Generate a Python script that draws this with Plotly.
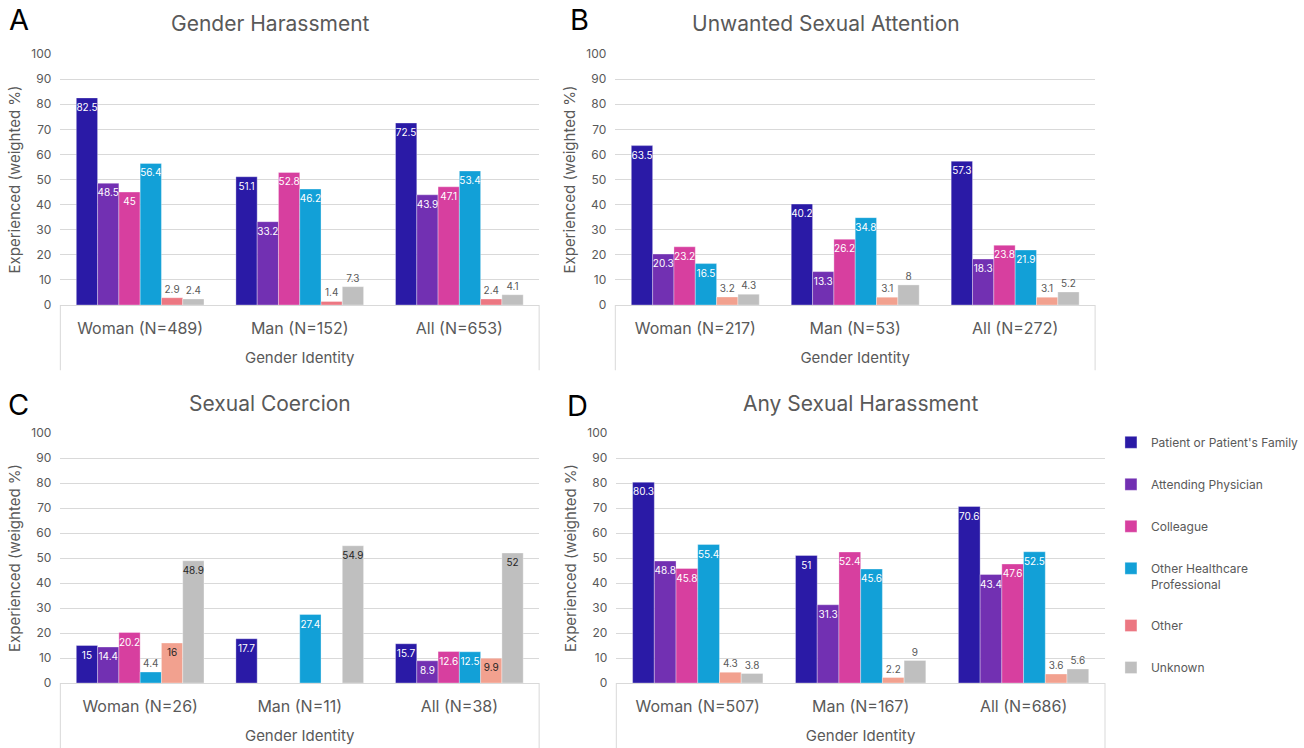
import plotly.graph_objects as go

# ---- data ----
series_names = ["Patient or Patient's Family", "Attending Physician", "Colleague",
                "Other Healthcare<br>Professional", "Other", "Unknown"]

cats_a = ["Woman (N=489)", "Man (N=152)", "All (N=653)"]
cats_b = ["Woman (N=217)", "Man (N=53)", "All (N=272)"]
cats_c = ["Woman (N=26)", "Man (N=11)", "All (N=38)"]
cats_d = ["Woman (N=507)", "Man (N=167)", "All (N=686)"]

# Gender Harassment
gh_patient = [82.5, 51.1, 72.5]
gh_attending = [48.5, 33.2, 43.9]
gh_colleague = [45, 52.8, 47.1]
gh_other_hcp = [56.4, 46.2, 53.4]
gh_other = [2.9, 1.4, 2.4]
gh_unknown = [2.4, 7.3, 4.1]

# Unwanted Sexual Attention
usa_patient = [63.5, 40.2, 57.3]
usa_attending = [20.3, 13.3, 18.3]
usa_colleague = [23.2, 26.2, 23.8]
usa_other_hcp = [16.5, 34.8, 21.9]
usa_other = [3.2, 3.1, 3.1]
usa_unknown = [4.3, 8, 5.2]

# Sexual Coercion
sc_patient = [15, 17.7, 15.7]
sc_attending = [14.4, None, 8.9]
sc_colleague = [20.2, None, 12.6]
sc_other_hcp = [4.4, 27.4, 12.5]
sc_other = [16, None, 9.9]
sc_unknown = [48.9, 54.9, 52]

# Any Sexual Harassment
ash_patient = [80.3, 51, 70.6]
ash_attending = [48.8, 31.3, 43.4]
ash_colleague = [45.8, 52.4, 47.6]
ash_other_hcp = [55.4, 45.6, 52.5]
ash_other = [4.3, 2.2, 3.6]
ash_unknown = [3.8, 9, 5.6]

panel_titles = ["Gender Harassment", "Unwanted Sexual Attention",
                "Sexual Coercion", "Any Sexual Harassment"]
panel_letters = ["A", "B", "C", "D"]

# ---- styling ----
W, H = 1304, 748
FONT = "Inter"
GREY_TXT = "#595959"
GRID = "#D9D9D9"
colors = ["#2A1AA6", "#7230B2", "#D73F9F", "#12A0D7", "#F2A18F", "#BFBFBF"]
other_color_a = "#EC7782"

panels = [
    dict(cats=cats_a, vals=[gh_patient, gh_attending, gh_colleague, gh_other_hcp, gh_other, gh_unknown],
         px=(61, 545), py=(54, 305), title_xy=(273, 23), letter_xy=(19, 20)),
    dict(cats=cats_b, vals=[usa_patient, usa_attending, usa_colleague, usa_other_hcp, usa_other, usa_unknown],
         px=(622, 1107), py=(54, 305), title_xy=(835, 23), letter_xy=(586, 20)),
    dict(cats=cats_c, vals=[sc_patient, sc_attending, sc_colleague, sc_other_hcp, sc_other, sc_unknown],
         px=(61, 545), py=(433, 683), title_xy=(273, 403), letter_xy=(19, 404)),
    dict(cats=cats_d, vals=[ash_patient, ash_attending, ash_colleague, ash_other_hcp, ash_other, ash_unknown],
         px=(623, 1117), py=(433, 683), title_xy=(870, 403), letter_xy=(584, 405)),
]


def fx(p):
    return p / W


def fy(p):
    return 1 - p / H


fig = go.Figure()
layout = dict(
    width=W, height=H,
    margin=dict(l=0, r=0, t=0, b=0),
    paper_bgcolor="white", plot_bgcolor="white",
    barmode="group", bargap=0.2, bargroupgap=0,
    font=dict(family=FONT, color=GREY_TXT),
    uniformtext=dict(minsize=10, mode="show"),
    showlegend=True,
    legend=dict(
        x=fx(1123), y=fy(428), xanchor="left", yanchor="top",
        font=dict(size=12, color=GREY_TXT, family=FONT),
        traceorder="grouped", tracegroupgap=23, valign="top",
        itemwidth=30, bgcolor="rgba(0,0,0,0)",
    ),
)

annotations = []
shapes = []

for i, p in enumerate(panels):
    n = "" if i == 0 else str(i + 1)
    xa, ya = "x" + n, "y" + n
    for s, (name, vals) in enumerate(zip(series_names, p["vals"])):
        col = colors[s]
        if i == 0 and s == 4:
            col = other_color_a
        positions, tcolors = [], []
        for v in vals:
            small = v is not None and ((s >= 4 and v < 9.5) or v < 5)
            if small:
                positions.append("outside")
                tcolors.append(GREY_TXT)
            else:
                positions.append("inside")
                tcolors.append("#262626" if s >= 4 else "white")
        fig.add_trace(go.Bar(
            x=p["cats"], y=vals, name=name,
            xaxis=xa, yaxis=ya,
            marker=dict(color=col, line=dict(color="rgba(255,255,255,0.55)", width=0.6)),
            text=[("" if v is None else f"{v:g}") for v in vals],
            textposition=positions,
            insidetextanchor="end",
            textangle=0,
            constraintext="none",
            cliponaxis=False,
            textfont=dict(size=10, color=tcolors, family=FONT),
            legendgroup=f"g{s}",
            showlegend=(i == 0),
            hoverinfo="skip",
        ))

    layout["xaxis" + n] = dict(
        domain=[fx(p["px"][0]), fx(p["px"][1])],
        anchor=ya,
        showgrid=False, zeroline=False,
        showline=True, linecolor=GRID, linewidth=1,
        ticks="", ticklabelstandoff=9,
        tickfont=dict(size=16, color=GREY_TXT, family=FONT),
        title=dict(text="Gender Identity", standoff=15,
                   font=dict(size=15, color=GREY_TXT, family=FONT)),
        automargin=False, fixedrange=True,
    )
    layout["yaxis" + n] = dict(
        domain=[fy(p["py"][1]), fy(p["py"][0])],
        anchor=xa,
        range=[0, 100], dtick=10, tick0=0,
        showgrid=True, gridcolor=GRID, gridwidth=1,
        zeroline=False, showline=False, ticks="",
        ticklabelstandoff=8,
        tickfont=dict(size=12, color=GREY_TXT, family=FONT),
        title=dict(text="Experienced (weighted %)", standoff=7,
                   font=dict(size=15, color=GREY_TXT, family=FONT)),
        automargin=False, fixedrange=True,
    )

    # outer frame of the category axis
    for xd in (0, 1):
        shapes.append(dict(type="line", xref=xa + " domain", yref=ya + " domain",
                           x0=xd, x1=xd, y0=0, y1=-0.26,
                           line=dict(color=GRID, width=1)))

    tx, ty = p["title_xy"]
    annotations.append(dict(text=panel_titles[i], x=fx(tx), y=fy(ty), xref="paper", yref="paper",
                            xanchor="center", yanchor="middle", showarrow=False,
                            font=dict(size=21, color=GREY_TXT, family=FONT)))
    lx, ly = p["letter_xy"]
    annotations.append(dict(text=panel_letters[i], x=fx(lx), y=fy(ly), xref="paper", yref="paper",
                            xanchor="center", yanchor="middle", showarrow=False,
                            font=dict(size=29, color="black", family=FONT)))

layout["annotations"] = annotations
layout["shapes"] = shapes
fig.update_layout(**layout)

fig.write_html("out.html", config=dict(displayModeBar=False))
